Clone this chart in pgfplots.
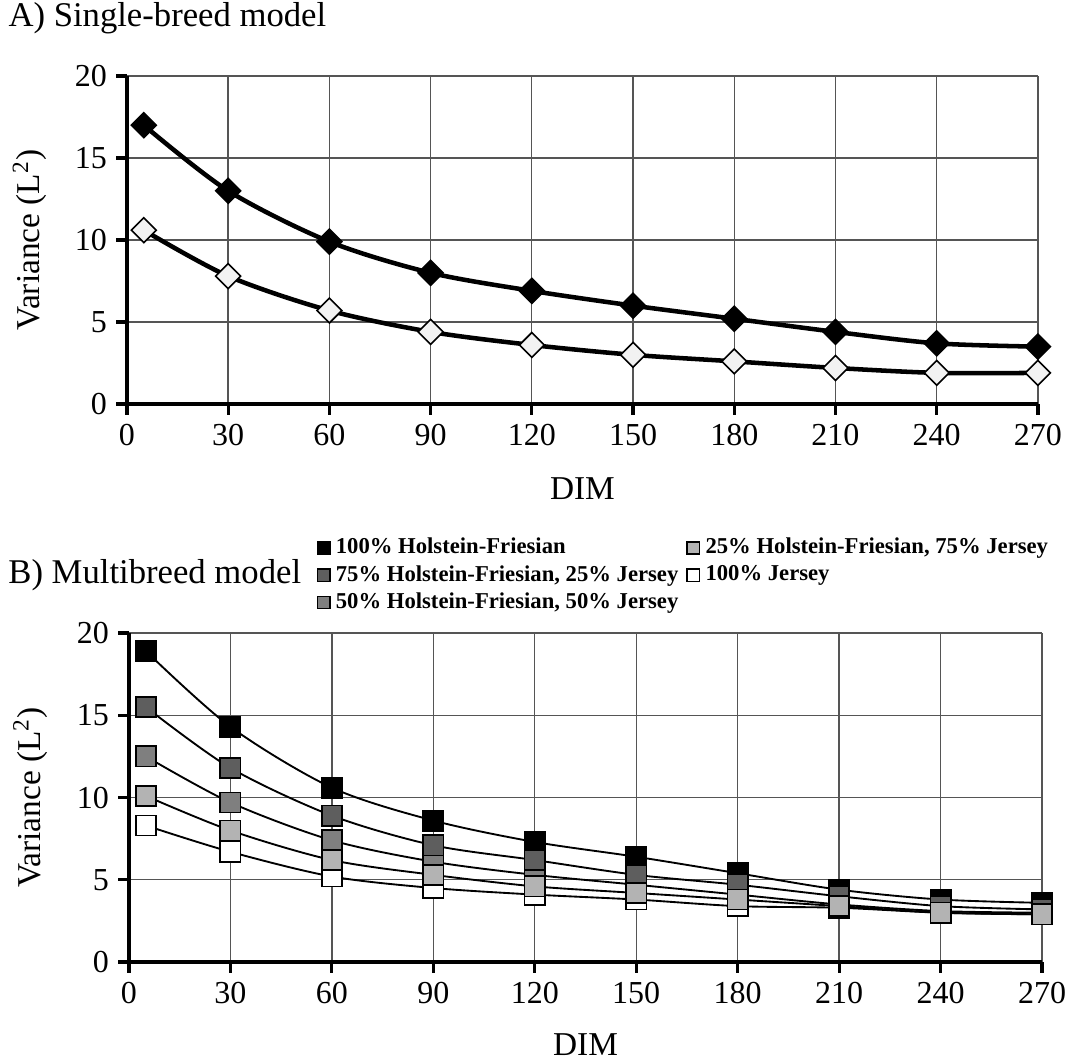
\documentclass[border=0pt]{standalone}
\usepackage{fontspec}
\setmainfont{Liberation Serif}
\usepackage{pgfplots}
\usepackage{pgfplotstable}
\pgfplotsset{compat=1.18}

\definecolor{hfa}{HTML}{000000}
\definecolor{hfb}{HTML}{5E5E5E}
\definecolor{hfc}{HTML}{7F7F7F}
\definecolor{hfd}{HTML}{B3B3B3}
\definecolor{hfe}{HTML}{FFFFFF}
\definecolor{gridc}{HTML}{555555}

% single-breed model
\pgfplotstableread{
dim hf jer
5   17.0 10.6
30  13.0 7.8
60  9.9  5.7
90  8.0  4.4
120 6.9  3.6
150 6.0  3.0
180 5.2  2.6
210 4.4  2.2
240 3.7  1.9
270 3.5  1.9
}\single

% multibreed model
\pgfplotstableread{
dim a    b    c    d    e
5   18.9 15.5 12.5 10.1 8.3
30  14.3 11.8 9.7  8.0  6.7
60  10.6 8.9  7.4  6.2  5.2
90  8.6  7.1  6.1  5.3  4.5
120 7.3  6.2  5.3  4.6  4.1
150 6.4  5.3  4.7  4.2  3.8
180 5.4  4.7  4.1  3.8  3.4
210 4.4  4.0  3.5  3.4  3.3
240 3.8  3.4  3.1  3.0  3.0
270 3.6  3.2  3.0  2.9  2.9
}\multi

\pgfplotsset{
  dimaxis/.style={
    scale only axis,
    xmin=0, xmax=270, ymin=0, ymax=20,
    xtick={0,30,...,270}, ytick={0,5,...,20},
    axis x line*=bottom, axis y line*=left,
    axis line style={line width=1.2pt},
    tick align=outside, major tick length=4pt,
    tick style={line width=1.2pt, black},
    grid=major, grid style={gridc, line width=0.5pt},
    ticklabel style={font=\fontsize{12}{14}\selectfont},
    /pgf/number format/assume math mode=true,
    label style={font=\fontsize{12.5}{15}\selectfont},
    xlabel={DIM},
    ylabel={Variance (L\textsuperscript{2})},
    clip=false,
  }
}

\begin{document}
\begin{tikzpicture}
\useasboundingbox (-47.6pt,-245.6pt) rectangle (351.75pt,151.5pt);

\begin{axis}[dimaxis, name=top,
    at={(0,0)}, anchor=south west,
    width=341.6pt, height=123pt,
    xlabel style={at={(axis description cs:0.5,-0.259)}, anchor=center},
    ylabel style={at={(axis description cs:-0.1066,0.5)}, anchor=center},
  ]
  \addplot[black, line width=1.7pt, smooth, mark=square*, mark size=3.3pt,
    mark options={solid, rotate=45, fill=black, draw=black, line width=0.6pt}]
    table[x=dim, y=hf] {\single};
  \addplot[black, line width=1.7pt, smooth, mark=square*, mark size=3.3pt,
    mark options={solid, rotate=45, fill=black!5, draw=black, line width=0.6pt}]
    table[x=dim, y=jer] {\single};
\end{axis}

\begin{axis}[dimaxis, name=bot,
    at={(0.75pt,-209.25pt)}, anchor=south west,
    width=342.4pt, height=123.4pt,
    xlabel style={at={(axis description cs:0.5,-0.252)}, anchor=center},
    ylabel style={at={(axis description cs:-0.108,0.5)}, anchor=center},
    legend columns=2,
    legend cell align=left,
    legend style={at={(axis description cs:0.205,1.045)}, anchor=south west,
      draw=none, fill=none, inner sep=0pt,
      font=\bfseries\fontsize{8.5}{10}\selectfont,
      /tikz/every even column/.append style={column sep=1pt},
      row sep=-1.2pt},
    legend image code/.code={
      \draw[#1, draw=black, line width=0.6pt] (0pt,-2.3pt) rectangle (4.6pt,2.3pt);},
  ]
  \addlegendimage{fill=hfa}
  \addlegendentry{100\% Holstein-Friesian}
  \addlegendimage{fill=hfd}
  \addlegendentry{25\% Holstein-Friesian, 75\% Jersey}
  \addlegendimage{fill=hfb}
  \addlegendentry{75\% Holstein-Friesian, 25\% Jersey}
  \addlegendimage{fill=hfe}
  \addlegendentry{100\% Jersey}
  \addlegendimage{fill=hfc}
  \addlegendentry{50\% Holstein-Friesian, 50\% Jersey}

  \addplot[forget plot, black, line width=0.7pt, smooth, mark=square*, mark size=3.8pt,
    mark options={solid, fill=hfa, draw=black, line width=0.6pt}]
    table[x=dim, y=a] {\multi};
  \addplot[forget plot, black, line width=0.7pt, smooth, mark=square*, mark size=3.8pt,
    mark options={solid, fill=hfc, draw=black, line width=0.6pt}]
    table[x=dim, y=c] {\multi};
  \addplot[forget plot, black, line width=0.7pt, smooth, mark=square*, mark size=3.8pt,
    mark options={solid, fill=hfb, draw=black, line width=0.6pt}]
    table[x=dim, y=b] {\multi};
  \addplot[forget plot, black, line width=0.7pt, smooth, mark=square*, mark size=3.8pt,
    mark options={solid, fill=hfe, draw=black, line width=0.6pt}]
    table[x=dim, y=e] {\multi};
  \addplot[forget plot, black, line width=0.7pt, smooth, mark=square*, mark size=3.8pt,
    mark options={solid, fill=hfd, draw=black, line width=0.6pt}]
    table[x=dim, y=d] {\multi};
\end{axis}

\node[anchor=west, inner sep=0pt, font=\fontsize{13}{15}\selectfont]
  at ([xshift=-44.6pt, yshift=21.8pt]top.north west) {A) Single-breed model};
\node[anchor=west, inner sep=0pt, font=\fontsize{13}{15}\selectfont]
  at ([xshift=-45.4pt, yshift=21.8pt]bot.north west) {B) Multibreed model};
\end{tikzpicture}
\end{document}
